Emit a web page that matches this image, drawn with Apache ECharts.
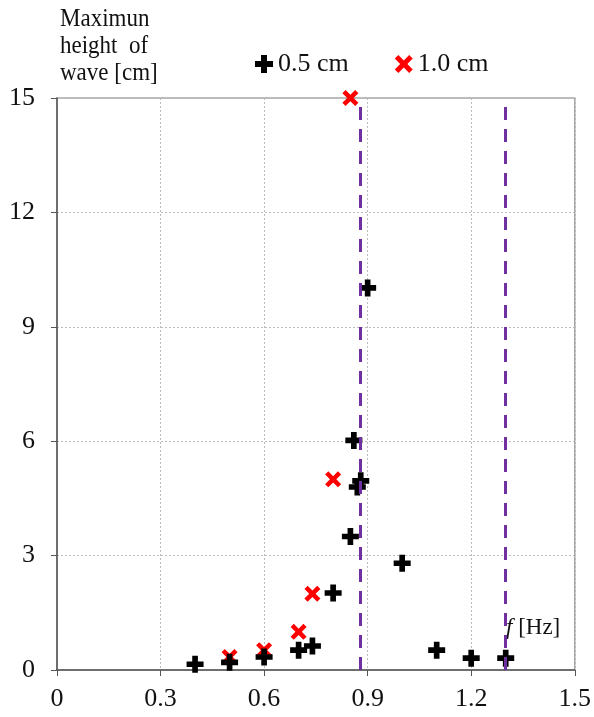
<!DOCTYPE html>
<html><head><meta charset="utf-8">
<script src="https://cdn.jsdelivr.net/npm/echarts@6/dist/echarts.min.js"></script>
<style>html,body{margin:0;padding:0;background:#fff}#c{width:594px;height:717px}</style>
</head><body><div id="c"></div>
<script>
const xTicks = [0, 0.3, 0.6, 0.9, 1.2, 1.5];
const yTicks = [0, 3, 6, 9, 12, 15];
const freq05 = [0.4, 0.5, 0.6, 0.7, 0.74, 0.8, 0.85, 0.86, 0.87, 0.88, 0.9, 1.0, 1.1, 1.2, 1.3];
const height05 = [0.15, 0.2, 0.34, 0.52, 0.63, 2.02, 3.5, 6.02, 4.8, 4.96, 10.02, 2.8, 0.52, 0.31, 0.31];
const freq10 = [0.5, 0.6, 0.7, 0.74, 0.8, 0.85];
const height10 = [0.34, 0.52, 1.0, 2.0, 5.0, 15.0];
const resonance = [0.877, 1.305];
const seriesNames = ['0.5 cm', '1.0 cm'];

const plusPath = 'path://M-1,-3H1V-1H3V1H1V3H-1V1H-3V-1H-1Z';
const crossPath = 'path://M-3,-1.8L-1.8,-3L0,-1.2L1.8,-3L3,-1.8L1.2,0L3,1.8L1.8,3L0,1.2L-1.8,3L-3,1.8L-1.2,0Z';
const font = 'Liberation Serif';
const chart = echarts.init(document.getElementById('c'));
chart.setOption({
  animation: false,
  textStyle: {fontFamily: font},
  grid: {left: 57, right: 19, top: 98, bottom: 47, show: true, borderColor: '#a6a6a6', borderWidth: 1.5},
  legend: {
    top: 46, left: 250, itemGap: 46, itemWidth: 18, itemHeight: 18,
    textStyle: {fontFamily: font, fontSize: 26, color: '#111'},
    data: [
      {name: seriesNames[0], icon: plusPath, itemStyle: {color: '#000', opacity: 1}},
      {name: seriesNames[1], icon: crossPath, itemStyle: {color: '#ff0000', opacity: 1}}
    ]
  },
  graphic: [
    {type: 'text', x: 60, y: 6, scaleY: 1.1, style: {text: 'Maximun\nheight  of\nwave [cm]', fontFamily: font, fontSize: 23, lineHeight: 24.5, fill: '#111'}},
    {type: 'text', x: 506, y: 616, style: {text: '{i|f} [Hz]', rich: {i: {fontStyle: 'italic', fontFamily: font, fontSize: 23, fill: '#111'}}, fontFamily: font, fontSize: 23, fill: '#111'}}
  ],
  xAxis: {
    type: 'value', min: 0, max: 1.5, interval: 0.3,
    axisLine: {onZero: false, lineStyle: {color: '#555', width: 1.5}},
    axisTick: {show: true, length: 6, lineStyle: {color: '#555'}},
    axisLabel: {fontFamily: font, fontSize: 26, color: '#111', margin: 16,
      formatter: v => xTicks.includes(Math.round(v*10)/10) ? String(Math.round(v*10)/10) : ''},
    splitLine: {show: true, lineStyle: {color: '#bbb', type: [2, 2], width: 1}}
  },
  yAxis: {
    type: 'value', min: 0, max: 15, interval: 3,
    axisLine: {show: true, lineStyle: {color: '#555', width: 1.5}},
    axisTick: {show: true, length: 6, lineStyle: {color: '#555'}},
    axisLabel: {fontFamily: font, fontSize: 26, color: '#111', margin: 22,
      formatter: v => yTicks.includes(v) ? String(v) : ''},
    splitLine: {show: true, lineStyle: {color: '#bbb', type: [2, 2], width: 1}}
  },
  series: [
    {
      name: 'res', type: 'line', data: [], silent: true,
      markLine: {
        symbol: 'none', silent: true, label: {show: false},
        lineStyle: {color: '#7030a0', width: 3, type: [13, 9]},
        data: resonance.map(v => ({xAxis: v}))
      }
    },
    {
      name: seriesNames[1], type: 'scatter', symbol: crossPath, symbolSize: 16,
      itemStyle: {color: '#ff0000', opacity: 1}, z: 3,
      data: freq10.map((f, i) => [f, height10[i]])
    },
    {
      name: seriesNames[0], type: 'scatter', symbol: plusPath, symbolSize: 17,
      itemStyle: {color: '#000', opacity: 1}, z: 4,
      data: freq05.map((f, i) => [f, height05[i]])
    }
  ]
});
</script></body></html>
